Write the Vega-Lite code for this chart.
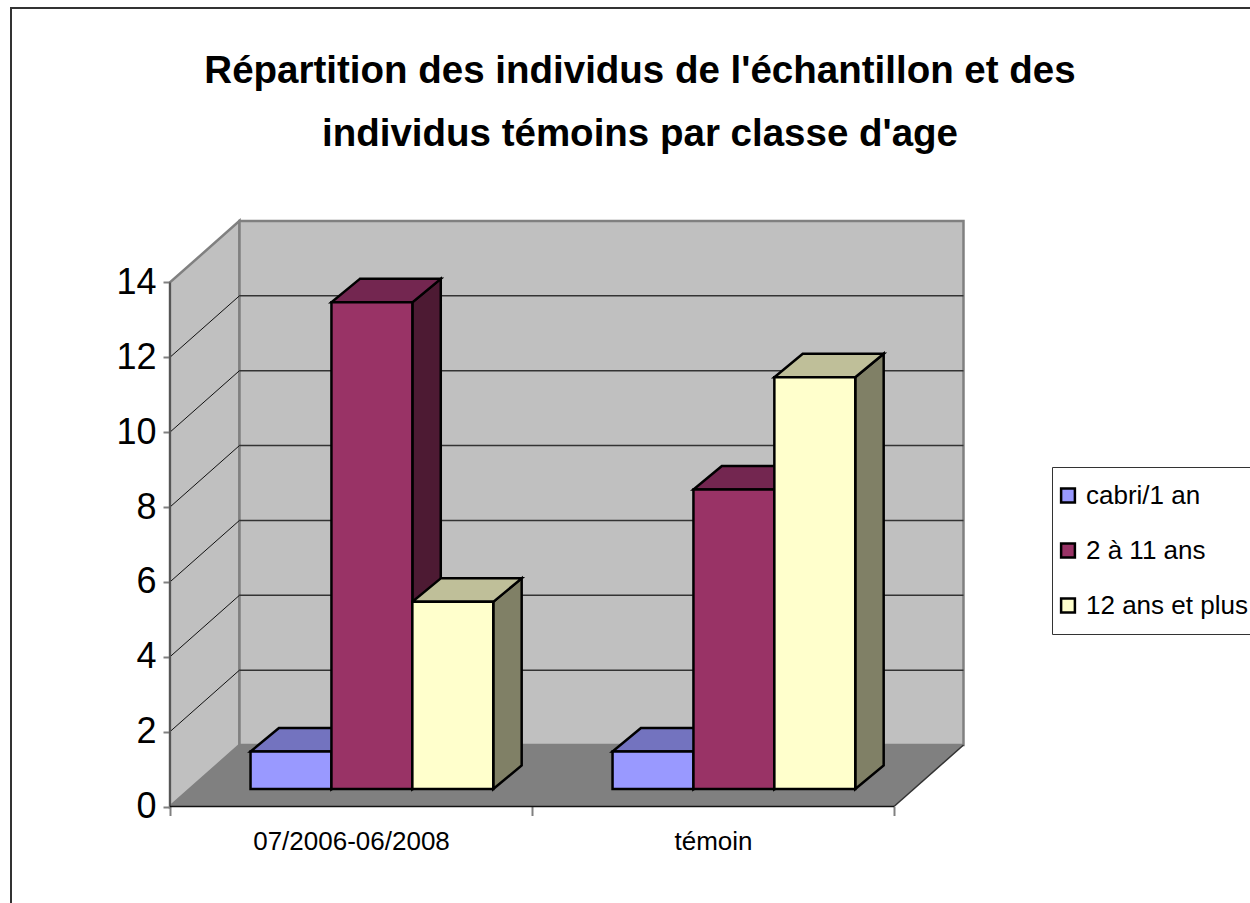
{
"$schema":"https://vega.github.io/schema/vega-lite/v6.json",
"width":1240,"height":896,
"autosize":{"type":"none"},
"padding":{"left":11,"top":8,"right":0,"bottom":0},
"background":"white",
"view":{"stroke":"#333333","strokeWidth":2,"fill":"white"},
"config":{"font":"Liberation Sans"},
"title":{"text":["Répartition des individus de l'échantillon et des","individus témoins par classe d'age"],"font":"Liberation Sans","fontSize":38.5,"fontWeight":"bold","color":"black","lineHeight":63,"anchor":"middle","frame":"group","dx":9,"baseline":"top","offset":-146},
"datasets":{
"effectifs":[
{"periode":"07/2006-06/2008","classe":"cabri/1 an","effectif":1},
{"periode":"07/2006-06/2008","classe":"2 à 11 ans","effectif":13},
{"periode":"07/2006-06/2008","classe":"12 ans et plus","effectif":5},
{"periode":"témoin","classe":"cabri/1 an","effectif":1},
{"periode":"témoin","classe":"2 à 11 ans","effectif":8},
{"periode":"témoin","classe":"12 ans et plus","effectif":11}
],
"graduations":[{"graduation":2},{"graduation":4},{"graduation":6},{"graduation":8},{"graduation":10},{"graduation":12}]
},
"resolve":{"scale":{"fill":"independent"}},
"layer":[
{"data":{"values":[{"p":0},{"p":1}]},
 "transform":[{"calculate":"datum.p*0.192","as":"wx"},{"calculate":"datum.p*1.643","as":"wy"},{"calculate":"14+datum.p*1.643","as":"wy2"}],
 "mark":{"type":"area","fill":"#c0c0c0","stroke":"#808080","strokeWidth":2.5},
 "encoding":{
  "x":{"field":"wx","type":"quantitative","scale":{"domain":[-0.4392,2.9862],"zero":false,"nice":false},
   "axis":{"title":null,"grid":false,"domain":false,"orient":"bottom","offset":-97.5,"values":[0,0.5,1,1.5,2],
    "labelExpr":"datum.value==0.5?'07/2006-06/2008':datum.value==1.5?'témoin':''",
    "tickColor":"#808080","tickWidth":2,"tickSize":9,"tickOpacity":{"expr":"datum.value%1==0?1:0"},
    "labelFont":"Liberation Sans","labelFontSize":26,"labelColor":"black","labelPadding":13,"labelLimit":400,"labelOverlap":false,"labelFlush":false,"labelBound":false}},
  "y":{"field":"wy","type":"quantitative","stack":null,"scale":{"domain":[-2.604,21.33],"zero":false,"nice":false},
   "axis":{"title":null,"grid":false,"domain":false,"orient":"left","offset":-159,"values":[0,2,4,6,8,10,12,14],
    "tickColor":"#808080","tickWidth":2,"tickSize":7,
    "labelFont":"Liberation Sans","labelFontSize":36,"labelColor":"black","labelPadding":7,"labelOverlap":false,"labelFlush":false,"labelBound":false}},
  "y2":{"field":"wy2"}
 }},
{"data":{"values":[{"x0":0.192,"x1":2.192,"y0":1.643,"y1":15.643}]},
 "mark":{"type":"rect","fill":"#c0c0c0","stroke":"#808080","strokeWidth":2.5},
 "encoding":{"x":{"field":"x0","type":"quantitative"},"x2":{"field":"x1"},"y":{"field":"y0","type":"quantitative"},"y2":{"field":"y1"}}},
{"data":{"values":[{"p":0},{"p":1}]},
 "transform":[{"calculate":"datum.p*1.643","as":"fy"},{"calculate":"datum.p*0.192","as":"fx"},{"calculate":"2+datum.p*0.192","as":"fx2"}],
 "mark":{"type":"area","orient":"horizontal","fill":"#808080"},
 "encoding":{"y":{"field":"fy","type":"quantitative"},"x":{"field":"fx","type":"quantitative","stack":null},"x2":{"field":"fx2"}}},
{"data":{"name":"graduations"},
 "transform":[{"calculate":"datum.graduation+1.643","as":"gy"},{"calculate":"0.192","as":"g0"},{"calculate":"2.192","as":"g1"}],
 "mark":{"type":"rule","stroke":"#333333","strokeWidth":1.5},
 "encoding":{"x":{"field":"g0","type":"quantitative"},"x2":{"field":"g1"},"y":{"field":"gy","type":"quantitative"}}},
{"data":{"name":"graduations"},
 "transform":[{"calculate":"[0,1]","as":"p"},{"flatten":["p"]},{"calculate":"datum.p*0.192","as":"gx"},{"calculate":"datum.graduation+datum.p*1.643","as":"gy"}],
 "mark":{"type":"line","stroke":"#111111","strokeWidth":1},
 "encoding":{"x":{"field":"gx","type":"quantitative"},"y":{"field":"gy","type":"quantitative"},"detail":{"field":"graduation"}}},
{"data":{"values":[{"a":0,"b":14,"u":0}]},
 "mark":{"type":"rule","stroke":"#555555","strokeWidth":2},
 "encoding":{"x":{"field":"u","type":"quantitative"},"y":{"field":"a","type":"quantitative"},"y2":{"field":"b"}}},
{"data":{"values":[{"a":0,"b":2,"u":0}]},
 "mark":{"type":"rule","stroke":"#111111","strokeWidth":1.5},
 "encoding":{"x":{"field":"a","type":"quantitative"},"x2":{"field":"b"},"y":{"field":"u","type":"quantitative"}}},
{"data":{"values":[{"p":0},{"p":1}]},
 "transform":[{"calculate":"2+datum.p*0.192","as":"ex"},{"calculate":"datum.p*1.643","as":"ey"}],
 "mark":{"type":"line","stroke":"#333333","strokeWidth":1.5},
 "encoding":{"x":{"field":"ex","type":"quantitative"},"y":{"field":"ey","type":"quantitative"}}},
{"data":{"name":"effectifs"},
 "transform":[
  {"calculate":"(datum.periode=='témoin'?1:0)+0.2225+indexof(['cabri/1 an','2 à 11 ans','12 ans et plus'],datum.classe)*0.2235","as":"gauche"},
  {"calculate":"[0,1]","as":"p"},{"flatten":["p"]},
  {"calculate":"datum.gauche+0.2235+datum.p*0.0785","as":"sx"},
  {"calculate":"0.467+datum.p*0.628","as":"sy"},
  {"calculate":"0.467+datum.effectif+datum.p*0.628","as":"sy2"}],
 "mark":{"type":"area","stroke":"black","strokeWidth":2.5},
 "encoding":{"x":{"field":"sx","type":"quantitative"},"y":{"field":"sy","type":"quantitative","stack":null},"y2":{"field":"sy2"},
  "detail":{"field":"periode"},
  "fill":{"field":"classe","type":"nominal","legend":null,"scale":{"domain":["cabri/1 an","2 à 11 ans","12 ans et plus"],"range":["#4d4d80","#4d1a33","#808066"]}}}},
{"data":{"name":"effectifs"},
 "transform":[
  {"calculate":"(datum.periode=='témoin'?1:0)+0.2225+indexof(['cabri/1 an','2 à 11 ans','12 ans et plus'],datum.classe)*0.2235","as":"gauche"},
  {"calculate":"[0,1]","as":"p"},{"flatten":["p"]},
  {"calculate":"datum.gauche+datum.p*0.0785","as":"tx"},
  {"calculate":"datum.gauche+0.2235+datum.p*0.0785","as":"tx2"},
  {"calculate":"0.467+datum.effectif+datum.p*0.628","as":"ty"}],
 "mark":{"type":"area","orient":"horizontal","stroke":"black","strokeWidth":2.5},
 "encoding":{"y":{"field":"ty","type":"quantitative"},"x":{"field":"tx","type":"quantitative","stack":null},"x2":{"field":"tx2"},
  "detail":{"field":"periode"},
  "fill":{"field":"classe","type":"nominal","legend":null,"scale":{"domain":["cabri/1 an","2 à 11 ans","12 ans et plus"],"range":["#7373bf","#732650","#bfbf99"]}}}},
{"data":{"name":"effectifs"},
 "transform":[
  {"calculate":"(datum.periode=='témoin'?1:0)+0.2225+indexof(['cabri/1 an','2 à 11 ans','12 ans et plus'],datum.classe)*0.2235","as":"gauche"},
  {"calculate":"datum.gauche+0.2235","as":"droite"},
  {"calculate":"0.467","as":"base"},
  {"calculate":"0.467+datum.effectif","as":"sommet"}],
 "mark":{"type":"rect","stroke":"black","strokeWidth":2.5},
 "encoding":{"x":{"field":"gauche","type":"quantitative"},"x2":{"field":"droite"},"y":{"field":"base","type":"quantitative"},"y2":{"field":"sommet"},
  "fill":{"field":"classe","type":"nominal","scale":{"domain":["cabri/1 an","2 à 11 ans","12 ans et plus"],"range":["#9999ff","#993366","#ffffcc"]},
   "legend":{"title":null,"orient":"none","legendX":1041,"legendY":459,"fillColor":"white","strokeColor":"#333333","padding":15.5,"symbolType":"square","symbolSize":190,"symbolOffset":-12.5,"symbolStrokeColor":"black","symbolStrokeWidth":2.5,"labelFont":"Liberation Sans","labelFontSize":26,"labelColor":"black","labelOffset":5,"rowPadding":29,"labelLimit":300}}}}
]
}
